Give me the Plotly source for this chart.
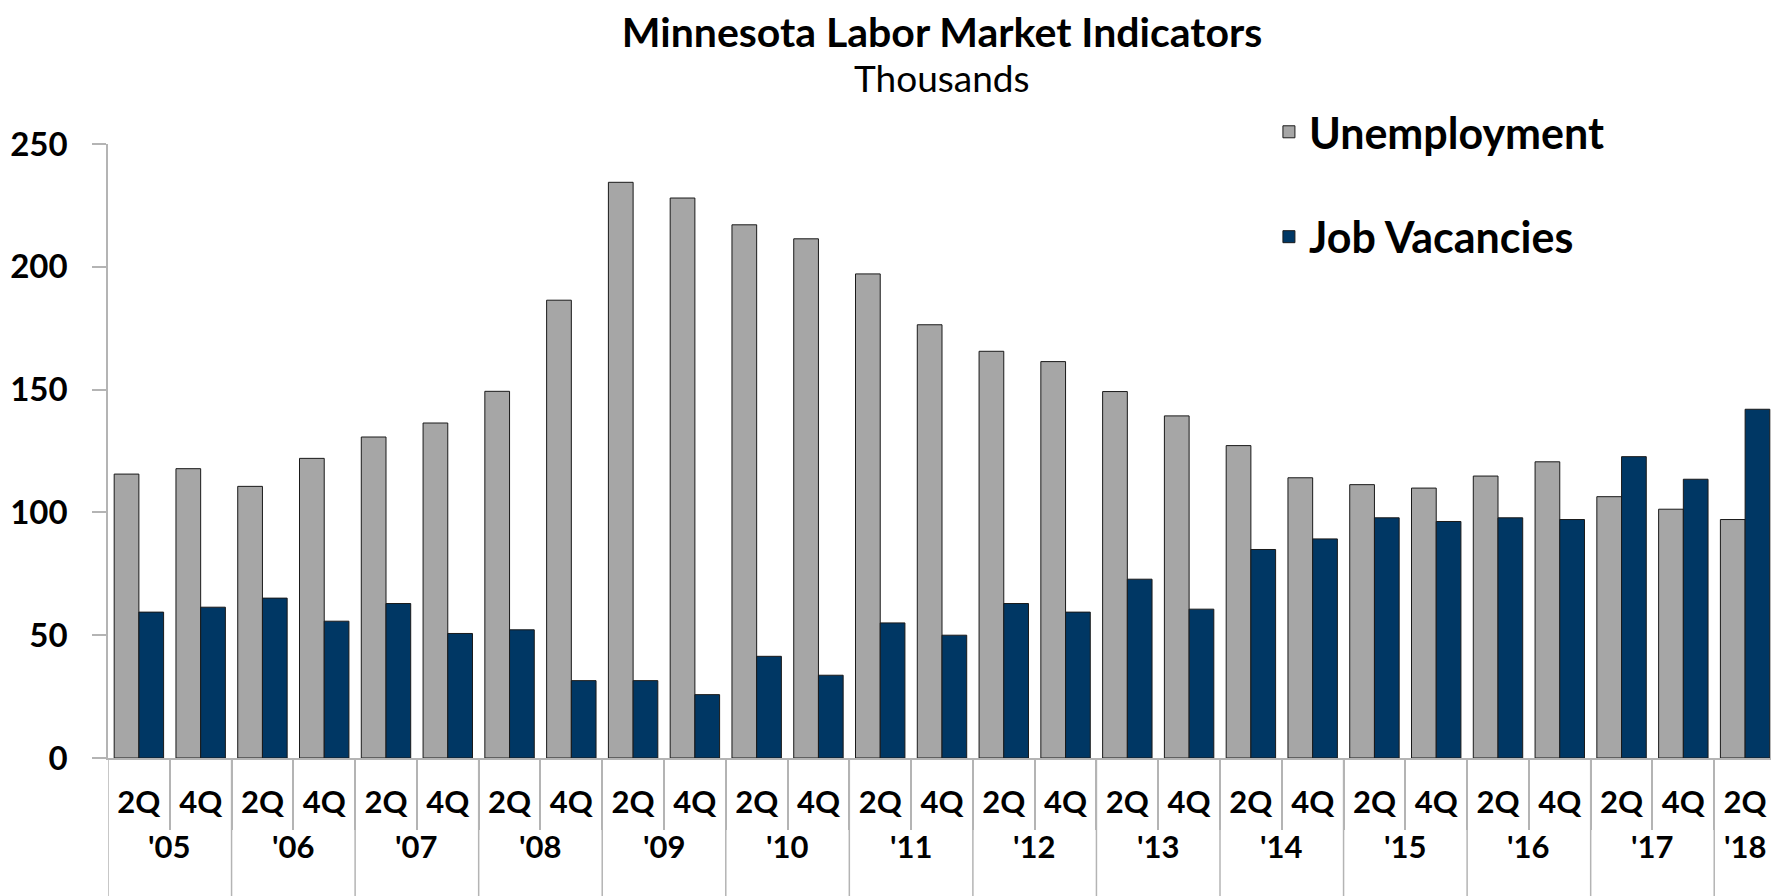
import plotly.graph_objects as go

# semi-annual observations, 2Q 2005 through 2Q 2018 (thousands)
years = ["'05", "'05", "'06", "'06", "'07", "'07", "'08", "'08", "'09", "'09",
         "'10", "'10", "'11", "'11", "'12", "'12", "'13", "'13", "'14", "'14",
         "'15", "'15", "'16", "'16", "'17", "'17", "'18"]
quarters = ["2Q", "4Q"] * 13 + ["2Q"]

unemployment = [115.6, 117.8, 110.6, 122.0, 130.7, 136.4, 149.3, 186.4, 234.4, 228.0,
                217.1, 211.4, 197.1, 176.4, 165.6, 161.4, 149.2, 139.3, 127.2, 114.1,
                111.3, 109.9, 114.8, 120.6, 106.4, 101.3, 97.1]
vacancies = [59.4, 61.4, 65.1, 55.7, 62.9, 50.7, 52.2, 31.5, 31.5, 25.8,
             41.4, 33.7, 55.0, 50.0, 62.9, 59.4, 72.8, 60.6, 84.9, 89.2,
             97.8, 96.3, 97.8, 97.1, 122.7, 113.5, 142.0]

FONT = "Lato"
GRAY = "#a6a6a6"
NAVY = "#003764"
AXIS = "#b4b4b4"
EDGE = "#1a1a1a"

pos = list(range(len(quarters)))

# year groups: centre of each year's slots and the boundaries between years
year_names = []
year_slots = {}
for i, yr in enumerate(years):
    if yr not in year_slots:
        year_names.append(yr)
        year_slots[yr] = []
    year_slots[yr].append(i)
year_centres = [sum(year_slots[y]) / len(year_slots[y]) for y in year_names]
year_bounds = [year_slots[y][0] - 0.5 for y in year_names]

fig = go.Figure()

fig.add_trace(go.Bar(
    x=pos, y=unemployment, name="Unemployment", legendgroup="u",
    marker=dict(color=GRAY, line=dict(color=EDGE, width=1)),
))
fig.add_trace(go.Bar(
    x=pos, y=vacancies, name="Job Vacancies", legendgroup="v",
    marker=dict(color=NAVY, line=dict(color=EDGE, width=1)),
))

# year labels under the quarter labels
annotations = [dict(
    text="<b>%s</b>" % name, x=c, xref="x", y=-0.143, yref="paper",
    showarrow=False, xanchor="center", yanchor="middle",
    font=dict(size=31, family=FONT, color="black"),
) for name, c in zip(year_names, year_centres)]

annotations.append(dict(
    text="Thousands", xref="paper", yref="paper", x=0.5, y=1.108,
    showarrow=False, xanchor="center", yanchor="middle",
    font=dict(size=37, family=FONT, color="black"),
))

# dividers between years run down through both label rows
shapes = [dict(
    type="line", xref="x", yref="paper", x0=b, x1=b, y0=0, y1=-0.4,
    line=dict(color=AXIS, width=1.5),
) for b in year_bounds]

# page body has an 8px margin, so the figure is shrunk by that much
fig.update_layout(
    width=1771, height=888,
    barmode="group", bargap=0.2, bargroupgap=0,
    plot_bgcolor="white", paper_bgcolor="white",
    margin=dict(l=100, r=3, t=136, b=138),
    font=dict(family=FONT, color="black"),
    title=dict(
        text="<b>Minnesota Labor Market Indicators</b>",
        x=0.5, xref="paper", y=1 - 10 / 888, yref="container",
        xanchor="center", yanchor="top", pad=dict(t=0, b=0),
        font=dict(size=41, family=FONT, color="black"),
    ),
    annotations=annotations,
    shapes=shapes,
    legend=dict(
        x=0.696, y=1.076, xanchor="left", yanchor="top",
        traceorder="grouped", tracegroupgap=46,
        font=dict(size=43, family=FONT, color="black", weight="bold"),
        bgcolor="rgba(0,0,0,0)",
    ),
    showlegend=True,
)

fig.update_yaxes(
    range=[0, 250], dtick=50, showgrid=False, zeroline=False,
    showline=True, linecolor=AXIS, linewidth=1.5,
    ticks="outside", ticklen=14, tickcolor=AXIS, tickwidth=1.5,
    ticklabelstandoff=18, automargin=False,
    tickfont=dict(size=33, family=FONT, color="black", weight="bold"),
)
fig.update_xaxes(
    range=[-0.5, len(pos) - 0.5], showgrid=False, zeroline=False,
    showline=True, linecolor=AXIS, linewidth=1.5,
    tickmode="array", tickvals=pos, ticktext=quarters, ticks="",
    ticklabelstandoff=16, automargin=False,
    minor=dict(tickmode="array", tickvals=[p + 0.5 for p in pos[:-1]],
               ticks="outside", ticklen=70, tickcolor=AXIS, tickwidth=1.5),
    tickfont=dict(size=31, family=FONT, color="black", weight="bold"),
)

fig.write_html("out.html")
